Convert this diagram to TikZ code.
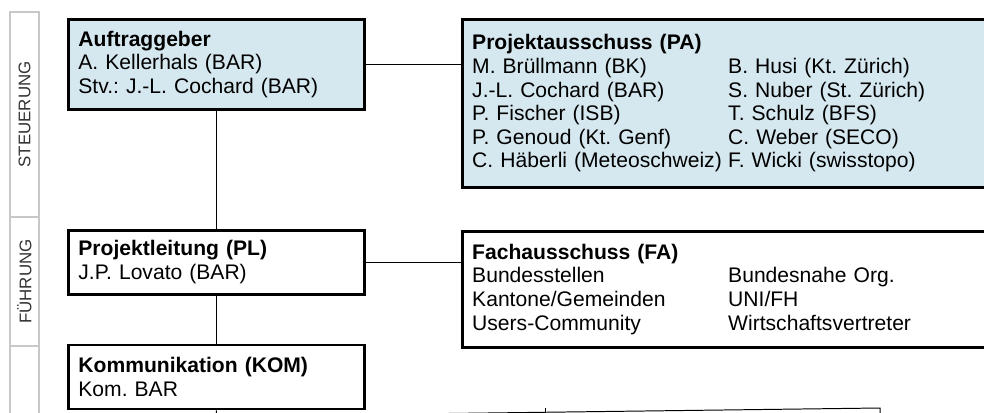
\documentclass[tikz,border=0pt]{standalone}
\usepackage{fontspec}
\setmainfont{Liberation Sans}
\usepackage{tikz}
\usetikzlibrary{positioning}
\definecolor{paneblue}{RGB}{214,232,239}
\definecolor{stripgray}{RGB}{200,200,200}
\definecolor{labelgray}{RGB}{50,50,50}
\newcommand{\twocol}[2]{\makebox[6.4cm][l]{#1}#2}
\frenchspacing

\begin{document}
\begin{tikzpicture}[
        every node/.style={font=\fontsize{15}{16.8}\selectfont},
        unit/.style={
            rectangle, draw=black, line width=2pt, fill=white,
            align=left, inner xsep=0.25cm, inner ysep=0pt, text width=6.9cm, minimum height=1.6cm
        },
        board/.style={unit, fill=paneblue},
        wide/.style={text width=12.9cm},
        link/.style={line width=0.7pt},
        strip/.style={draw=stripgray, line width=0.8pt},
        level/.style={rotate=90, font=\fontsize{12}{14}\selectfont, text=labelgray}
    ]
        \useasboundingbox (0,0) rectangle (24.6,-10.3);
        \clip (0,0) rectangle (24.6,-10.3);

        % Level strip
        \draw[strip] (0.25,-10.4) -- (0.25,-0.3) -- (0.975,-0.3) -- (0.975,-10.4);
        \draw[strip] (0.25,-5.425) -- (0.975,-5.425);
        \draw[strip] (0.25,-8.65) -- (0.975,-8.65);
        \node[level] (steu) at (0.6125,-2.86) {STEUERUNG};
        \node[level] (fuehr) at (0.6125,-7.04) {FÜHRUNG};

        % Organisation nodes
        \node (ag) [board, minimum height=2.25cm, anchor=north west] at (1.675,-0.45)
            {\textbf{Auftraggeber}\\A. Kellerhals (BAR)\\Stv.: J.-L. Cochard (BAR)};
        \node (pa) [board, wide, minimum height=4.2cm, right=2.375cm of ag.north east, anchor=north west]
            {\textbf{Projektausschuss (PA)}\\
             \twocol{M. Brüllmann (BK)}{B. Husi (Kt. Zürich)}\\
             \twocol{J.-L. Cochard (BAR)}{S. Nuber (St. Zürich)}\\
             \twocol{P. Fischer (ISB)}{T. Schulz (BFS)}\\
             \twocol{P. Genoud (Kt. Genf)}{C. Weber (SECO)}\\
             \twocol{C. Häberli (Meteoschweiz)}{F. Wicki (swisstopo)}};
        \node (pl) [unit, below=2.95cm of ag]
            {\textbf{Projektleitung (PL)}\\J.P. Lovato (BAR)};
        \node (fa) [unit, wide, minimum height=2.9cm, right=2.375cm of pl.north east, anchor=north west, yshift=-0.025cm]
            {\textbf{Fachausschuss (FA)}\\
             \twocol{Bundesstellen}{Bundesnahe Org.}\\
             \twocol{Kantone/Gemeinden}{UNI/FH}\\
             \twocol{Users-Community}{Wirtschaftsvertreter}};
        \node (kom) [unit, below=1.2cm of pl]
            {\textbf{Kommunikation (KOM)}\\Kom. BAR};

        % Connectors
        \draw[link] (ag) -- (pl);
        \draw[link] (pl) -- (kom);
        \draw[link] (ag.east) -- (ag.east -| pa.west);
        \draw[link] (pl.east) -- (pl.east -| fa.west);

        % Bus below
        \coordinate (busL) at ([yshift=-0.15cm]kom.south);
        \coordinate (busM) at (13.625,-10.2);
        \coordinate (busR) at (22.0,-10.2);
        \draw[link] (kom.south) -- (busL) -- (busR) -- ++(0,-0.3);
        \draw[link] (busM) -- ++(0,-0.3);

    \end{tikzpicture}
\end{document}
